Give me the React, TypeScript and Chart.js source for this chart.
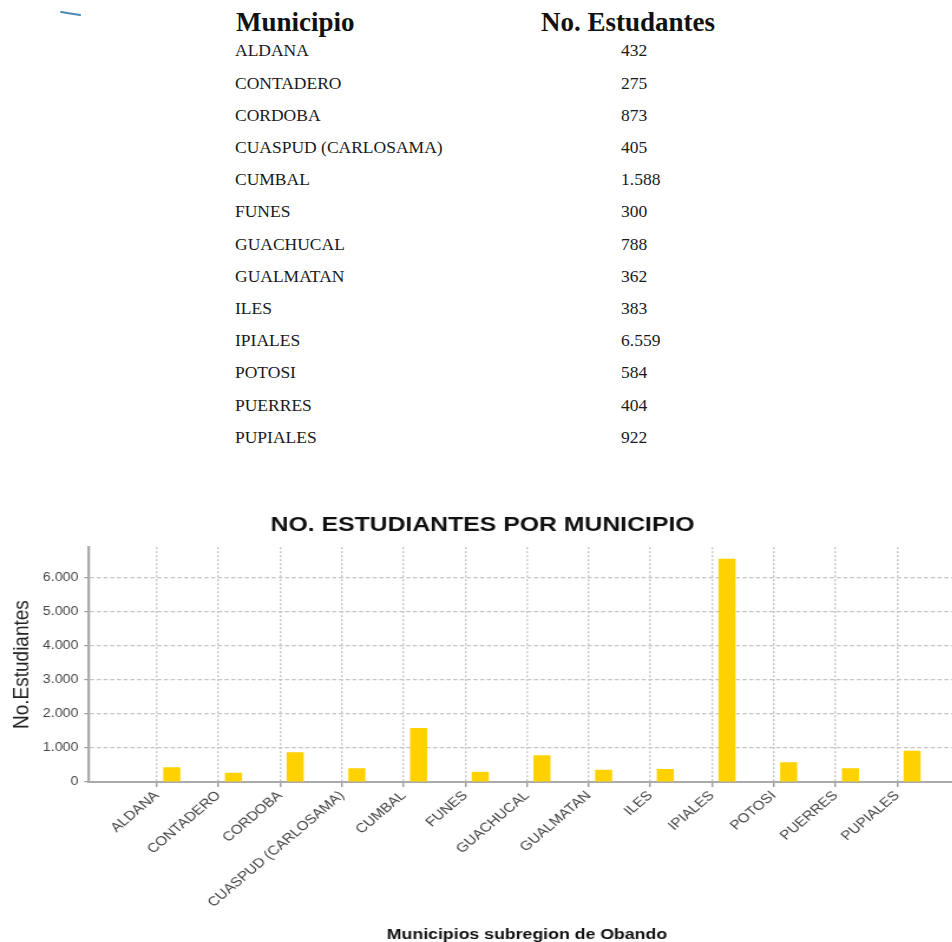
import React, { useEffect, useRef } from "react";
import { Chart, registerables } from "chart.js";

Chart.register(...registerables);

const categories = [
  "ALDANA",
  "CONTADERO",
  "CORDOBA",
  "CUASPUD (CARLOSAMA)",
  "CUMBAL",
  "FUNES",
  "GUACHUCAL",
  "GUALMATAN",
  "ILES",
  "IPIALES",
  "POTOSI",
  "PUERRES",
  "PUPIALES",
];
const values = [432, 275, 873, 405, 1588, 300, 788, 362, 383, 6559, 584, 404, 922];
const tableValueLabels = ["432", "275", "873", "405", "1.588", "300", "788", "362", "383", "6.559", "584", "404", "922"];
const yTicks = [0, 1000, 2000, 3000, 4000, 5000, 6000];
const yMax = 6900;
const xMin = -1.1;
const xMax = 13.1;

const tableHeaders = ["Municipio", "No. Estudantes"];
const chartTitle = "NO. ESTUDIANTES POR MUNICIPIO";
const yTitle = "No.Estudiantes";
const xTitle = "Municipios subregion de Obando";

const STRETCH = 1.18;
const SANS = "'Liberation Sans', Arial, sans-serif";
const SERIF = "'Liberation Serif', 'Times New Roman', serif";

function fmt(v: number): string {
  return String(v).replace(/\B(?=(\d{3})+(?!\d))/g, ".");
}

function BarChart() {
  const ref = useRef<HTMLCanvasElement | null>(null);
  useEffect(() => {
    if (!ref.current) return;
    const chart = new Chart(ref.current, {
      type: "bar",
      data: {
        datasets: [
          {
            label: "",
            data: categories.map((_, i) => ({ x: i, y: null })) as any,
            backgroundColor: "rgba(0,0,0,0)",
          },
          {
            label: "No. Estudiantes",
            data: categories.map((_, i) => ({ x: i, y: values[i] })),
            backgroundColor: "#FFD100",
          },
        ],
      },
      options: {
        animation: false,
        responsive: false,
        devicePixelRatio: 1,
        categoryPercentage: 0.97,
        barPercentage: 0.57,
        layout: { padding: { left: 0, right: 2.2, top: 0, bottom: 0 } },
        plugins: {
          legend: { display: false },
          tooltip: { enabled: false },
          title: {
            display: true,
            text: chartTitle,
            color: "#111",
            font: { family: SANS, size: 21, weight: "bold" },
            padding: { top: 13, bottom: 9 },
          },
        },
        scales: {
          x: {
            type: "linear",
            min: xMin,
            max: xMax,
            offset: false,
            afterBuildTicks: (axis: any) => {
              axis.ticks = categories.map((_, i) => ({ value: i }));
            },
            afterFit: (axis: any) => {
              axis.height = 162;
            },
            ticks: {
              stepSize: 1,
              autoSkip: false,
              maxRotation: 45,
              minRotation: 45,
              padding: 1,
              color: "#444",
              font: { family: SANS, size: 13 },
              callback: (v: any) => categories[v] ?? "",
            },
            grid: {
              offset: false,
              color: "#c4c4c4",
              lineWidth: 1.4,
              tickLength: 5,
              tickColor: "#999",
              tickWidth: 1.4,
            },
            border: { display: true, color: "#aaa", width: 2, dash: [2, 2] },
            title: {
              display: true,
              text: xTitle,
              color: "#111",
              font: { family: SANS, size: 15, weight: "bold" },
              padding: { top: 0, bottom: 0 },
            },
          },
          y: {
            min: 0,
            max: yMax,
            afterBuildTicks: (axis: any) => {
              axis.ticks = yTicks.map((v) => ({ value: v }));
            },
            afterFit: (axis: any) => {
              axis.width = 75.4;
            },
            ticks: {
              padding: 5,
              color: "#444",
              font: { family: SANS, size: 12 },
              callback: (v: any) => fmt(Number(v)),
            },
            grid: {
              color: "#c4c4c4",
              lineWidth: 1.2,
              tickLength: 4,
              tickColor: "#999",
              tickWidth: 1.2,
            },
            border: { display: true, color: "#aaa", width: 2.3, dash: [3.5, 2.2] },
            title: {
              display: true,
              text: yTitle,
              color: "#222",
              font: { family: SANS, size: 19 },
              padding: { top: 7, bottom: 0 },
            },
          },
        },
      } as any,
    });
    return () => chart.destroy();
  }, []);
  return (
    <div
      style={{
        position: "absolute",
        left: 0,
        top: 500,
        width: 820,
        height: 444,
        transform: `scaleX(${STRETCH})`,
        transformOrigin: "0 0",
      }}
    >
      <canvas ref={ref} width={820} height={444} style={{ display: "block" }} />
    </div>
  );
}

export default function App() {
  const header = {
    position: "absolute" as const,
    top: 9.4,
    fontFamily: SERIF,
    fontWeight: "bold" as const,
    fontSize: 27,
    lineHeight: 1,
    color: "#111",
    whiteSpace: "nowrap" as const,
  };
  const cell = {
    position: "absolute" as const,
    fontFamily: SERIF,
    fontSize: 17.5,
    lineHeight: 1,
    color: "#1a1a1a",
    whiteSpace: "nowrap" as const,
  };
  return (
    <div
      style={{
        position: "absolute",
        left: 0,
        top: 0,
        width: 952,
        height: 942,
        overflow: "hidden",
        background: "#fff",
      }}
    >
      <svg
        width={30}
        height={20}
        style={{ position: "absolute", left: 58, top: 6 }}
      >
        <line x1={3} y1={6} x2={22} y2={9} stroke="#4a8ab8" strokeWidth={2} strokeLinecap="round" />
      </svg>
      <div style={{ ...header, left: 236 }}>{tableHeaders[0]}</div>
      <div style={{ ...header, left: 541 }}>{tableHeaders[1]}</div>
      {categories.map((c, i) => (
        <React.Fragment key={c}>
          <div style={{ ...cell, left: 235, top: 42.4 + i * 32.2 }}>{c}</div>
          <div style={{ ...cell, left: 621, top: 42.4 + i * 32.2 }}>{tableValueLabels[i]}</div>
        </React.Fragment>
      ))}
      <BarChart />
    </div>
  );
}
